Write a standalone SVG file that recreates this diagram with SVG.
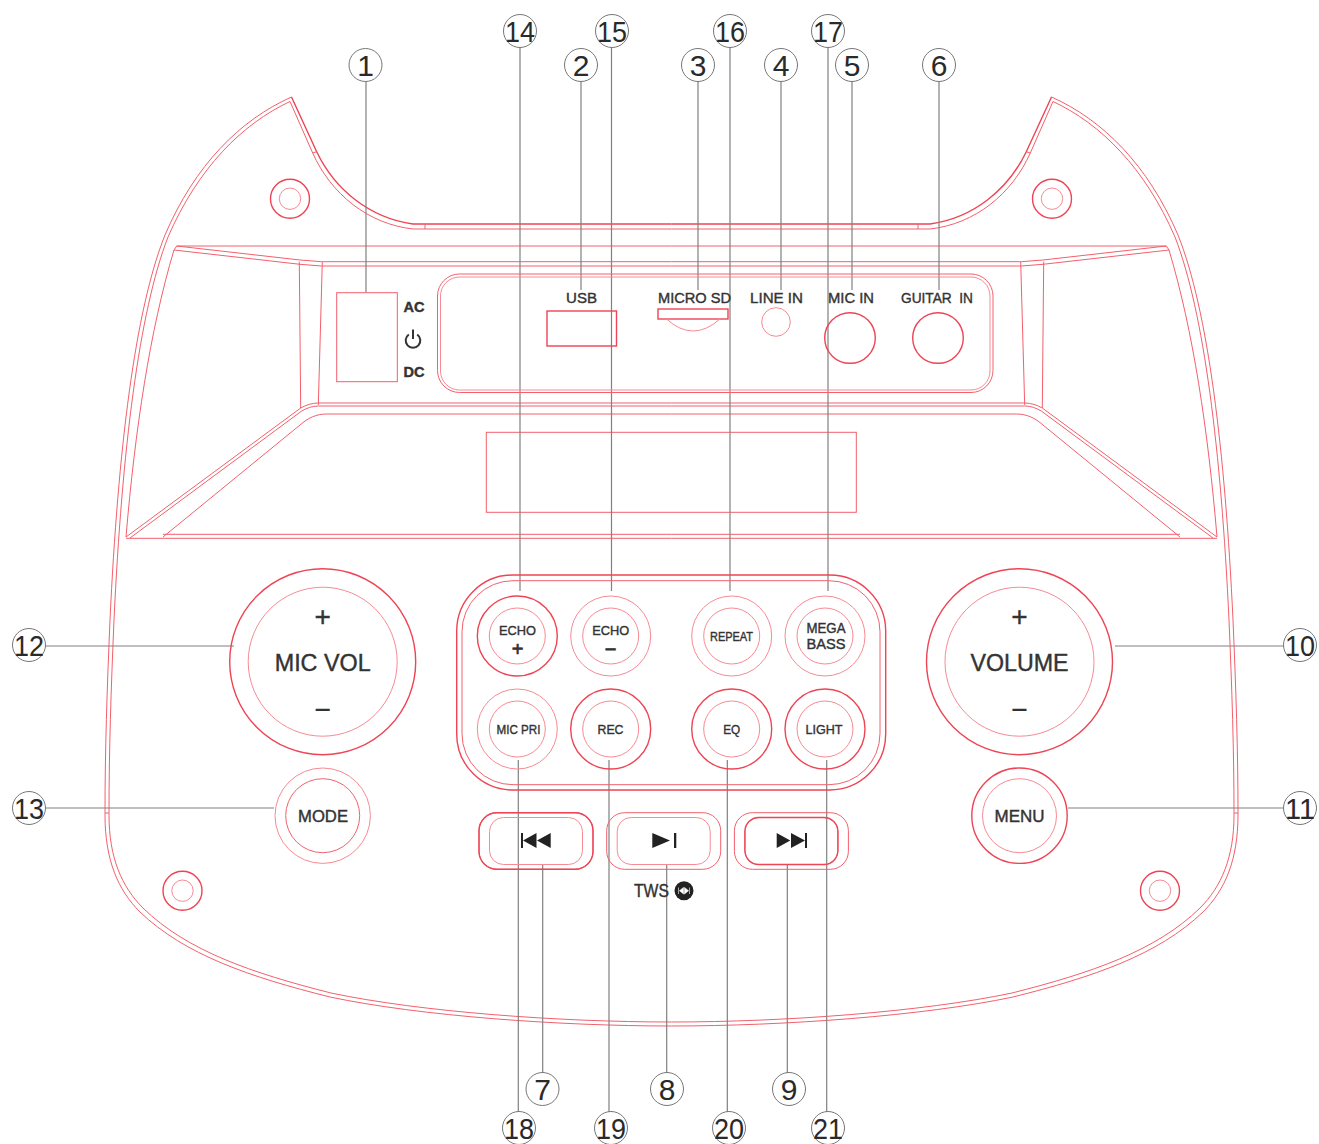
<svg xmlns="http://www.w3.org/2000/svg" width="1319" height="1144" viewBox="0 0 1319 1144">
<style>
.l{fill:none;stroke:#f2606c;stroke-width:1}
.p{fill:none;stroke:#f78a94;stroke-width:1}
.s{fill:none;stroke:#ee4454;stroke-width:1.4}
.c{fill:none;stroke:#808080;stroke-width:1.2}
.n{fill:none;stroke:#777;stroke-width:1}
.num{font-family:"Liberation Sans",Arial,sans-serif;font-size:30px;fill:#2a2a2a;text-anchor:middle}
.t{font-family:"Liberation Sans",Arial,sans-serif;fill:#333;text-anchor:middle;stroke:#333;stroke-width:.4}
.i{fill:#222}
</style>
<defs>
<g id="half">
<path class="l" d="M291.5 97C240 120 195 165 165 235C135 310 118 450 110 620C107 690 105 750 105 815C105 860 118 890 140 912C185 955 250 977 330 997C420 1016 560 1026 671.5 1026"/>
<path class="l" d="M290 101.500C242 124 198 168 168 237C139 312 122 450 114 620C111 690 109 750 109 815C109 858 122 887 143 908C187 951 252 973 331 993C421 1012 560 1022 671.5 1022"/>
<path class="s" d="M291.500 97L316.700 151.700C335 190 370 218 413 224H671.500"/>
<path class="l" d="M290 101.500L312.700 153C331 194 368 224 413 229H671.500M316.700 151.700L312.700 153M425 224V229M105 813H109"/>
<path class="l" d="M176.700 246H671.500M176.700 246L300 260L321.700 261.700H671.500M174 250L176.700 246M174 250L300 264.300L321.700 266H671.500"/>
<path class="l" d="M174 250C150 330 135 430 126 537M299.300 261.700L300.700 408M322.300 262L318.300 405"/>
<path class="l" d="M126 537L300.700 408C306 405 312 403 318.300 403H671.500M130 538L301.700 411C307 408 312 406 318.300 406H671.500M163 537L300 425C308 418 316 414 326.700 414H671.500M126 538.300H671.500M163 534.300H671.500"/>
</g>
<g id="screw"><circle class="s" r="19.500"/><circle class="p" r="10.700"/></g>
<g id="big"><circle class="s" r="93"/><circle class="p" r="74.500"/></g>
<g id="sm"><circle class="p" r="40"/><circle class="p" r="28"/></g>
<g id="sms"><circle class="s" r="40"/><circle class="p" r="28"/></g>
<g id="tb"><rect class="l" x="-57" y="-28.300" width="114" height="56.600" rx="18"/><rect class="p" x="-46.500" y="-23.500" width="93" height="47" rx="14"/></g>
</defs>

<g id="body">
<use href="#half"/>
<use href="#half" transform="translate(1343 0) scale(-1 1)"/>
<rect class="l" x="486.300" y="432.300" width="370" height="80"/>
</g>

<g id="connectors">
<path class="c" d="M366 81V292M581 81V290M698 81V290M781 81V290M852 81V290M939 81V290M520 47V591M611.500 47V591M730 47V591M828 47V591M45 646H234M45 808H274M1115 646H1284M1068 808H1284M542.700 864V1073M666.700 864V1073M787.300 864V1073M518.300 760V1112M609 760V1112M727.300 760V1112M826.700 760V1112"/>
</g>

<g id="screws">
<use href="#screw" x="290" y="198.700"/><use href="#screw" x="1052" y="198.700"/><use href="#screw" x="182.500" y="890.700"/><use href="#screw" x="1160" y="890.700"/>
</g>

<g id="power">
<rect class="l" x="336.700" y="292.700" width="60.600" height="89"/>
<text class="t" x="414" y="312" font-size="15" font-weight="bold" textLength="21" lengthAdjust="spacingAndGlyphs">AC</text>
<path d="M408.800 334.500A7.300 7.300 0 1 0 417.200 334.500M413 329.500V339" fill="none" stroke="#333" stroke-width="2"/>
<text class="t" x="414" y="376.700" font-size="15" font-weight="bold" textLength="21" lengthAdjust="spacingAndGlyphs">DC</text>
</g>

<g id="ports">
<rect class="l" x="437.500" y="274" width="555.500" height="118.500" rx="22"/>
<rect class="p" x="440.500" y="277" width="549.500" height="113" rx="19"/>
<rect class="s" x="547" y="311" width="69.500" height="35"/>
<text class="t" x="581.500" y="303" font-size="15" textLength="31" lengthAdjust="spacingAndGlyphs">USB</text>
<rect class="s" x="658" y="309" width="70" height="10"/>
<path class="p" d="M666.500 319Q693 343 720 319"/>
<text class="t" x="694.500" y="303" font-size="15" textLength="73" lengthAdjust="spacingAndGlyphs">MICRO SD</text>
<circle class="p" cx="776" cy="322" r="14.300"/>
<text class="t" x="776.500" y="303" font-size="15" textLength="53" lengthAdjust="spacingAndGlyphs">LINE IN</text>
<circle class="s" cx="850" cy="338" r="25.300"/>
<text class="t" x="851" y="303" font-size="15" textLength="46" lengthAdjust="spacingAndGlyphs">MIC IN</text>
<circle class="s" cx="938" cy="338" r="25.300"/>
<text class="t" x="937" y="303" font-size="15" textLength="72" lengthAdjust="spacingAndGlyphs" xml:space="preserve">GUITAR  IN</text>
</g>

<g id="mic-vol">
<use href="#big" x="322.700" y="661.700"/>
<text class="t" x="322.700" y="626" font-size="28">+</text>
<text class="t" x="322.700" y="670.700" font-size="24" textLength="96" lengthAdjust="spacingAndGlyphs">MIC VOL</text>
<text class="t" x="322.700" y="719" font-size="28">−</text>
</g>
<g id="volume">
<use href="#big" x="1019.500" y="661.700"/>
<text class="t" x="1019.500" y="626" font-size="28">+</text>
<text class="t" x="1019.500" y="670.700" font-size="24" textLength="98" lengthAdjust="spacingAndGlyphs">VOLUME</text>
<text class="t" x="1019.500" y="719" font-size="28">−</text>
</g>
<g id="mode">
<circle class="p" cx="322.700" cy="815.700" r="47.700"/><circle class="l" cx="322.700" cy="815.700" r="37"/>
<text class="t" x="323" y="821.700" font-size="17" textLength="50" lengthAdjust="spacingAndGlyphs">MODE</text>
</g>
<g id="menu">
<circle class="s" cx="1019.500" cy="815.700" r="47.700"/><circle class="p" cx="1019.500" cy="815.700" r="37"/>
<text class="t" x="1019.500" y="821.700" font-size="17" textLength="50" lengthAdjust="spacingAndGlyphs">MENU</text>
</g>

<g id="button-panel">
<rect class="s" x="456.700" y="575" width="429" height="215" rx="56"/>
<rect class="l" x="462" y="580.700" width="418" height="204" rx="51"/>
</g>
<g id="echo-plus"><use href="#sms" x="517.300" y="636"/>
<text class="t" x="517.500" y="635" font-size="13.500" textLength="37" lengthAdjust="spacingAndGlyphs">ECHO</text>
<text class="t" x="517.500" y="656" font-size="20" stroke-width=".7" style="stroke-width:.7">+</text></g>
<g id="echo-minus"><use href="#sm" x="610.700" y="636"/>
<text class="t" x="610.700" y="635" font-size="13.500" textLength="37" lengthAdjust="spacingAndGlyphs">ECHO</text>
<text class="t" x="610.500" y="656" font-size="20" style="stroke-width:.7">−</text></g>
<g id="repeat"><use href="#sm" x="731.700" y="636"/>
<text class="t" x="731.500" y="641" font-size="13.500" textLength="43" lengthAdjust="spacingAndGlyphs">REPEAT</text></g>
<g id="mega-bass"><use href="#sm" x="825" y="636"/>
<text class="t" x="826" y="633" font-size="14" textLength="39" lengthAdjust="spacingAndGlyphs">MEGA</text>
<text class="t" x="826" y="648.700" font-size="14" textLength="39" lengthAdjust="spacingAndGlyphs">BASS</text></g>
<g id="mic-pri"><use href="#sm" x="517.300" y="729"/>
<text class="t" x="518.500" y="734.300" font-size="13.500" textLength="44" lengthAdjust="spacingAndGlyphs">MIC PRI</text></g>
<g id="rec"><use href="#sms" x="610.700" y="729"/>
<text class="t" x="610.500" y="734.300" font-size="13.500" textLength="26" lengthAdjust="spacingAndGlyphs">REC</text></g>
<g id="eq"><use href="#sms" x="731.700" y="729"/>
<text class="t" x="731.700" y="734.300" font-size="13.500" textLength="17" lengthAdjust="spacingAndGlyphs">EQ</text></g>
<g id="light"><use href="#sms" x="825" y="729"/>
<text class="t" x="824" y="734.300" font-size="13.500" textLength="37" lengthAdjust="spacingAndGlyphs">LIGHT</text></g>

<g id="prev"><use href="#tb" x="536" y="841"/>
<rect class="s" x="479" y="812.700" width="114" height="56.600" rx="18"/>
<path class="i" d="M521 833H523V848H521ZM523 840.500L536.500 833V848ZM537 840.500L550.700 833V848Z"/></g>
<g id="play"><use href="#tb" x="663.700" y="841"/>
<path class="i" d="M652.300 833L670 840.500L652.300 848ZM674 833H676.300V848H674Z"/></g>
<g id="next"><use href="#tb" x="791.400" y="841"/>
<rect class="s" x="744.900" y="817.500" width="93" height="47" rx="14"/>
<path class="i" d="M776.700 833L790.300 840.500L776.700 848ZM791 833L805 840.500L791 848ZM805 833H807V848H805Z"/></g>
<g id="tws">
<text class="t" x="651.500" y="897" font-size="18" textLength="35" lengthAdjust="spacingAndGlyphs">TWS</text>
<circle cx="684" cy="890.700" r="9.500" fill="#222"/>
<path d="M678.500 887.500V894M679.500 890.700L683.500 887.500V894ZM689.500 887.500V894M688.500 890.700L684.500 887.500V894Z" fill="#fff" stroke="#fff" stroke-width=".6"/>
</g>

<g id="n1"><circle class="n" cx="365.500" cy="65" r="16.500"/><text class="num" x="365.500" y="76">1</text></g>
<g id="n2"><circle class="n" cx="581" cy="65" r="16.500"/><text class="num" x="581" y="76">2</text></g>
<g id="n3"><circle class="n" cx="698" cy="65" r="16.500"/><text class="num" x="698" y="76">3</text></g>
<g id="n4"><circle class="n" cx="781" cy="65" r="16.500"/><text class="num" x="781" y="76">4</text></g>
<g id="n5"><circle class="n" cx="852" cy="65" r="16.500"/><text class="num" x="852" y="76">5</text></g>
<g id="n6"><circle class="n" cx="939" cy="65" r="16.500"/><text class="num" x="939" y="76">6</text></g>
<g id="n7"><circle class="n" cx="542.500" cy="1089" r="16.500"/><text class="num" x="542.500" y="1100">7</text></g>
<g id="n8"><circle class="n" cx="667" cy="1089" r="16.500"/><text class="num" x="667" y="1100">8</text></g>
<g id="n9"><circle class="n" cx="789" cy="1089" r="16.500"/><text class="num" x="789" y="1100">9</text></g>
<g id="n10"><circle class="n" cx="1300" cy="645" r="16.500"/><text class="num" x="1300" y="656" textLength="30" lengthAdjust="spacingAndGlyphs">10</text></g>
<g id="n11"><circle class="n" cx="1300" cy="808" r="16.500"/><text class="num" x="1300" y="819" textLength="30" lengthAdjust="spacingAndGlyphs">11</text></g>
<g id="n12"><circle class="n" cx="29" cy="645" r="16.500"/><text class="num" x="29" y="656" textLength="30" lengthAdjust="spacingAndGlyphs">12</text></g>
<g id="n13"><circle class="n" cx="29" cy="808" r="16.500"/><text class="num" x="29" y="819" textLength="30" lengthAdjust="spacingAndGlyphs">13</text></g>
<g id="n14"><circle class="n" cx="520" cy="31" r="16.500"/><text class="num" x="520" y="42" textLength="30" lengthAdjust="spacingAndGlyphs">14</text></g>
<g id="n15"><circle class="n" cx="612" cy="31" r="16.500"/><text class="num" x="612" y="42" textLength="30" lengthAdjust="spacingAndGlyphs">15</text></g>
<g id="n16"><circle class="n" cx="730" cy="31" r="16.500"/><text class="num" x="730" y="42" textLength="30" lengthAdjust="spacingAndGlyphs">16</text></g>
<g id="n17"><circle class="n" cx="828" cy="31" r="16.500"/><text class="num" x="828" y="42" textLength="30" lengthAdjust="spacingAndGlyphs">17</text></g>
<g id="n18"><circle class="n" cx="519" cy="1128" r="16.500"/><text class="num" x="519" y="1139" textLength="30" lengthAdjust="spacingAndGlyphs">18</text></g>
<g id="n19"><circle class="n" cx="611" cy="1128" r="16.500"/><text class="num" x="611" y="1139" textLength="30" lengthAdjust="spacingAndGlyphs">19</text></g>
<g id="n20"><circle class="n" cx="729" cy="1128" r="16.500"/><text class="num" x="729" y="1139" textLength="30" lengthAdjust="spacingAndGlyphs">20</text></g>
<g id="n21"><circle class="n" cx="828" cy="1128" r="16.500"/><text class="num" x="828" y="1139" textLength="30" lengthAdjust="spacingAndGlyphs">21</text></g>
</svg>
